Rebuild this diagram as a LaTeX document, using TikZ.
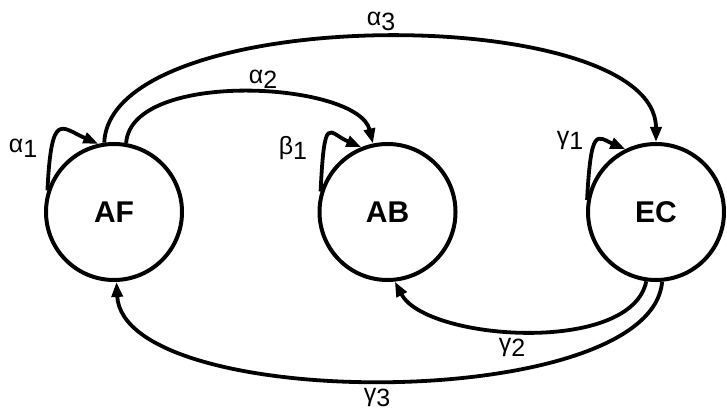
\documentclass[tikz,border=0pt]{standalone}
\usepackage{fontspec}
\setmainfont{Liberation Sans}
\usetikzlibrary{arrows.meta, positioning}
\newcommand{\rate}[2]{#1\raisebox{-5pt}{#2}}

\begin{document}
\begin{tikzpicture}[x=1pt, y=-1pt,
  state/.style={circle, draw, line width=4pt, minimum size=136pt, inner sep=0pt, font=\fontsize{30}{30}\selectfont\bfseries},
  arr/.style={-{Triangle[length=15pt,width=11pt]}, line width=3.8pt},
  lbl/.style={font=\fontsize{25}{25}\selectfont, inner sep=0pt}
]
\useasboundingbox (0,0) rectangle (727,414);

\node[state] (af) at (114,212) {AF};
\node[state, right=133.5pt of af] (ab) {AB};
\node[state, right=128.5pt of ab] (ec) {EC};

% self loops
\draw[arr] (af.162) .. controls +(4,-81) and +(-37,-16) .. (af.103);
\draw[arr] (ab.163) .. controls +(4,-80) and +(-33,-14) .. (ab.112);
\draw[arr] (ec.170) .. controls +(4,-75) and +(-28,-12) .. (ec.116);

% transitions
\draw[arr] (af.80) .. controls +(5,-74) and +(-15,-62) .. (ab.102);
\draw[arr] (af.98) .. controls +(6,-141) and +(0,-140) .. (ec.north);
\draw[arr] (ec.262) .. controls +(-15,74) and +(31,59) .. (ab.-84);
\draw[arr] (ec.-85) .. controls +(-11,132) and +(7,131) .. (af.-88);

% rates
\node[lbl] (la1) at (23,148) {\rate{α}{1}};
\node[lbl] (la2) at (263,79) {\rate{α}{2}};
\node[lbl] (la3) at (381,21) {\rate{α}{3}};
\node[lbl] (lb1) at (293,148) {\rate{β}{1}};
\node[lbl] (lg1) at (570,140) {\rate{γ}{1}};
\node[lbl] (lg2) at (512,347) {\rate{γ}{2}};
\node[lbl] (lg3) at (377,398) {\rate{γ}{3}};
\end{tikzpicture}
\end{document}
